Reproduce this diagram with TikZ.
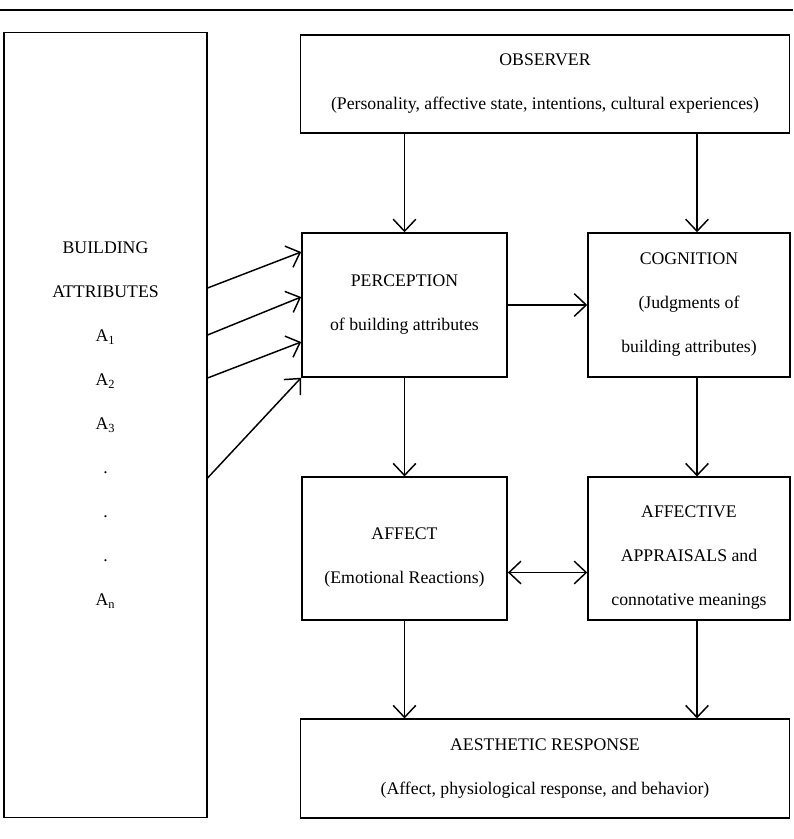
\documentclass[tikz,border=0pt]{standalone}
\usepackage{fontspec}
\setmainfont{Liberation Serif}
\usetikzlibrary{arrows.meta}

\tikzset{
  block/.style={draw, rectangle, line width=1.1pt, align=center,
    font=\fontsize{13.3}{33}\selectfont, inner sep=0pt},
  flow/.style={->, line width=1.1pt}
}

\begin{document}
\begin{tikzpicture}[x=0.75pt, y=-0.75pt, >={Straight Barb[length=9pt,width=17pt]}]
        \useasboundingbox (0,0) rectangle (793,839);
        \draw [line width=2pt] (0,10) -- (793,10);

        \node [block, minimum width=152pt, minimum height=589pt] (attr) at (105.5,425)
          {BUILDING\\ATTRIBUTES\\A\textsubscript{1}\\A\textsubscript{2}\\A\textsubscript{3}\\.\\.\\.\\A\textsubscript{n}};
        \node [block, minimum width=367pt, minimum height=73.5pt] (observer) at (545,84)
          {OBSERVER\\(Personality, affective state, intentions, cultural experiences)};
        \node [block, minimum width=154pt, minimum height=108pt] (perc) at (404.5,305)
          {PERCEPTION\\of building attributes};
        \node [block, minimum width=151.5pt, minimum height=108pt] (cogn) at (689,305)
          {COGNITION\\(Judgments of\\building attributes)};
        \node [block, minimum width=154pt, minimum height=107pt] (affect) at (404.5,548.5)
          {\rule{0pt}{22pt}AFFECT\\(Emotional Reactions)};
        \node [block, minimum width=151.5pt, minimum height=107pt] (appr) at (689,548.5)
          {\rule{0pt}{22pt}AFFECTIVE\\APPRAISALS and\\connotative meanings};
        \node [block, minimum width=367pt, minimum height=74pt] (resp) at (545,768.5)
          {AESTHETIC RESPONSE\\(Affect, physiological response, and behavior)};

        \draw [flow] (observer.south -| perc.north) -- (perc.north);
        \draw [flow] ([xshift=6pt]observer.south -| cogn.north) -- ([xshift=6pt]cogn.north);
        \draw [flow] (perc.east) -- (cogn.west);
        \draw [flow] (perc.south) -- (affect.north);
        \draw [flow] ([xshift=6pt]cogn.south) -- ([xshift=6pt]appr.north);
        \draw [<->, line width=1.1pt] ([yshift=-18pt]affect.east) -- ([yshift=-18pt]appr.west);
        \draw [flow] (affect.south) -- (affect.south |- resp.north);
        \draw [flow] ([xshift=6pt]appr.south) -- ([xshift=6pt]appr.south |- resp.north);

        \foreach \a/\b in {102.75/39.75, 67.5/6, 35.25/-27.75}
          \draw [flow] ([yshift=\a pt]attr.east) -- ([yshift=\b pt]perc.west);
        \draw [flow] ([yshift=-39.75pt]attr.east) -- (perc.south west);
    \end{tikzpicture}
\end{document}
